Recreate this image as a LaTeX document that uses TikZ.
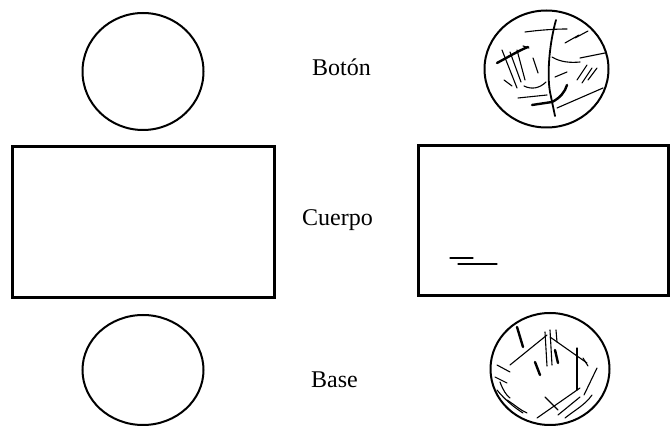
\documentclass[tikz,border=0pt]{standalone}
\usepackage{fontspec}
\setmainfont{Liberation Serif}
\usetikzlibrary{shapes.geometric}
\begin{document}
\begin{tikzpicture}[x=1pt,y=-1pt,
  disc/.style={ellipse,draw,line width=2pt,inner sep=0pt},
  slab/.style={rectangle,draw,line width=3pt,inner sep=0pt},
  lbl/.style={font=\fontsize{24}{28}\selectfont,anchor=base,inner sep=0pt},
  thin/.style={line width=1.1pt,line cap=round},
  mid/.style={line width=1.8pt,line cap=round},
  thick/.style={line width=2.4pt,line cap=round}]
\useasboundingbox[fill=white] (0,0) rectangle (670,430);
% left plain parts
\node[disc,minimum width=121pt,minimum height=117pt] (b1) at (143,71.5) {};
\node[slab,minimum width=262pt,minimum height=151pt] (c1) at (143,222.5) {};
\node[disc,minimum width=121pt,minimum height=110pt] (s1) at (143,370) {};
% right textured parts
\node[disc,minimum width=124pt,minimum height=117pt] (b2) at (546.5,69) {};
\node[slab,minimum width=250pt,minimum height=150pt] (c2) at (543,221) {};
\node[disc,minimum width=119pt,minimum height=112pt] (s2) at (550,369) {};
% labels
\node[lbl] (t1) at (341.5,76) {Botón};
\node[lbl] (t2) at (337.5,226) {Cuerpo};
\node[lbl] (t3) at (334.5,388) {Base};
% scratches on the top textured circle
\draw[mid] (556,20) .. controls (549,45) and (547,75) .. (550,92) -- (555,116);
\draw[thin] (525,32) .. controls (540,30) and (555,29) .. (567,29);
\draw[thick] (497,63) .. controls (510,56) and (520,50) .. (528,47);
\draw[thin] (523,46) -- (529,48);
\draw[thin] (502,50) -- (517,88);
\draw[thin] (510,52) -- (521,82);
\draw[thin] (517,50) -- (525,80);
\draw[thin] (533,58) -- (538,73);
\draw[thin] (504,80) -- (512,86);
\draw[thin] (524,86) .. controls (532,90) and (540,88) .. (546,82);
\draw[thin] (518,98) -- (547,95);
\draw[thick] (532,105) -- (552,102) .. controls (560,98) and (565,92) .. (567,85);
\draw[thin] (565,43) -- (579,35);
\draw[thin] (575,38) -- (588,31);
\draw[thin] (552,57) .. controls (560,62) and (570,63) .. (580,62);
\draw[thin] (580,58) -- (605,53);
\draw[thin] (577,80) -- (587,65);
\draw[thin] (582,83) -- (592,68);
\draw[thin] (588,80) -- (597,68);
\draw[thin] (555,77) -- (567,72);
\draw[thin] (557,108) -- (603,88);
% strokes in the textured body
\draw[thin] (450,258) -- (473,258);
\draw[thin] (458,264) -- (497,264);
% scratches on the bottom textured circle
\draw[thick] (517,327) -- (523,347);
\draw[thin] (510,365) -- (547,335);
\draw[thin] (545,332) -- (547,366);
\draw[thin] (550,330) -- (552,365);
\draw[thin] (556,330) -- (557,342);
\draw[thin] (550,337) -- (587,363);
\draw[thick] (555,350) -- (558,363);
\draw[thick] (535,362) -- (540,375);
\draw[thin] (577,348) -- (577,390);
\draw[thin] (583,358) -- (588,366);
\draw[thin] (597,368) -- (584,395);
\draw[thin] (537,418) -- (580,388);
\draw[thin] (545,397) -- (558,410);
\draw[thin] (558,415) -- (580,397);
\draw[thin] (565,418) .. controls (575,410) and (585,405) .. (592,395);
\draw[thin] (497,365) -- (510,372);
\draw[thin] (495,377) -- (507,383);
\draw[thin] (500,382) .. controls (503,390) and (506,395) .. (510,398);
\draw[thin] (497,390) .. controls (505,400) and (515,408) .. (523,413);
\draw[thin] (507,400) .. controls (515,405) and (520,410) .. (527,413);
\end{tikzpicture}
\end{document}
